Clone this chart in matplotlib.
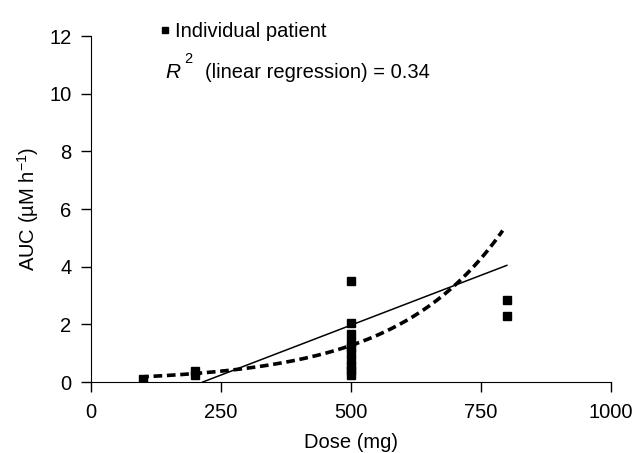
import numpy as np
import matplotlib.pyplot as plt
from matplotlib.lines import Line2D

plt.rcParams['font.family'] = ['Liberation Sans', 'DejaVu Sans']
plt.rcParams['mathtext.fontset'] = 'custom'
plt.rcParams['mathtext.rm'] = 'Liberation Sans'
plt.rcParams['mathtext.it'] = 'Liberation Sans:italic'

# individual patients (dose in mg, AUC in uM h-1)
dose = [100, 200, 200, 500, 500, 500, 500, 500, 500, 500, 500, 500, 500, 800, 800]
auc = [0.12, 0.25, 0.38, 3.52, 2.06, 1.65, 1.38, 1.2, 1.0, 0.75, 0.55, 0.4, 0.25, 2.83, 2.3]

# linear regression line
lin_slope = 0.00692
lin_intercept = -1.49
lin_range = [215, 800]

# exponential trend (dashed)
exp_a = 0.111
exp_b = 0.00487
exp_range = [95, 792]

fs = 14.5

fig = plt.figure(figsize=(6.35, 4.53), dpi=100)
ax = fig.add_axes([0.143, 0.1567, 0.819, 0.7638])

ax.plot(dose, auc, 's', color='black', ms=6, zorder=3)

xl = np.array(lin_range)
ax.plot(xl, lin_slope * xl + lin_intercept, '-', color='black', lw=1.1)

xe = np.linspace(exp_range[0], exp_range[1], 200)
ax.plot(xe, exp_a * np.exp(exp_b * xe), '--', color='black', lw=2.6, dashes=(2.4, 1.3))

ax.set_xlim(0, 1000)
ax.set_ylim(0, 12)
ax.set_xticks([0, 250, 500, 750, 1000])
ax.set_yticks([0, 2, 4, 6, 8, 10, 12])
ax.spines['top'].set_visible(False)
ax.spines['right'].set_visible(False)
ax.tick_params(direction='out', length=7, width=1, labelsize=fs, colors='black')
ax.tick_params(axis='x', pad=8)
ax.tick_params(axis='y', pad=7)
ax.set_xlabel('Dose (mg)', fontsize=fs, labelpad=8)
ax.set_ylabel('AUC (µM h$^{-1}$)', fontsize=fs, labelpad=6)

handle = Line2D([], [], marker='s', ls='none', color='black', ms=5)
ax.legend([handle], ['Individual patient'], loc='center left', bbox_to_anchor=(0.103, 1.012),
          frameon=False, fontsize=fs, handletextpad=0.0, borderpad=0, handlelength=1.0)

# R^2 note, superscript set high like the original
fig.text(165 / 635, 1 - 78 / 453, 'R', fontsize=15, style='italic', va='baseline', ha='left')
fig.text(184 / 635, 1 - 63 / 453, '2', fontsize=10.5, va='baseline', ha='left')
fig.text(205 / 635, 1 - 78 / 453, '(linear regression) = 0.34', fontsize=fs,
         va='baseline', ha='left')

fig.savefig('out.png', dpi=100)
